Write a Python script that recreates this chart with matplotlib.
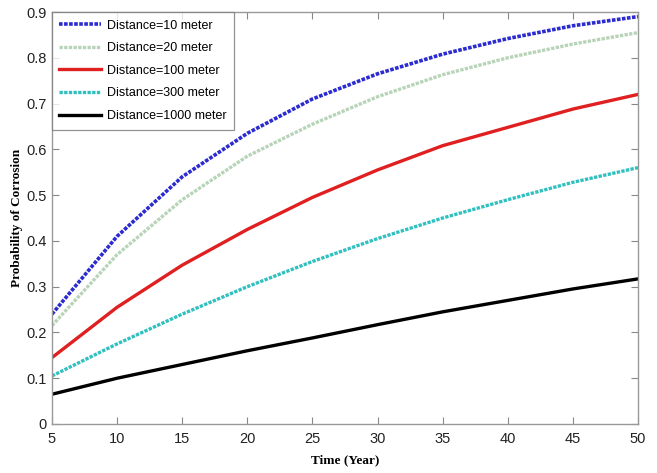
import matplotlib
matplotlib.use('Agg')
import matplotlib.pyplot as plt

# data
years = [5, 10, 15, 20, 25, 30, 35, 40, 45, 50]
d10 = [0.240, 0.410, 0.540, 0.635, 0.710, 0.765, 0.808, 0.842, 0.870, 0.890]
d20 = [0.215, 0.370, 0.490, 0.585, 0.655, 0.715, 0.763, 0.800, 0.830, 0.855]
d100 = [0.145, 0.255, 0.347, 0.425, 0.495, 0.555, 0.608, 0.648, 0.688, 0.720]
d300 = [0.105, 0.175, 0.240, 0.300, 0.355, 0.405, 0.450, 0.490, 0.528, 0.560]
d1000 = [0.065, 0.100, 0.130, 0.160, 0.188, 0.217, 0.245, 0.270, 0.295, 0.317]
labels = ['Distance=10 meter', 'Distance=20 meter', 'Distance=100 meter',
          'Distance=300 meter', 'Distance=1000 meter']
x_ticks = [5, 10, 15, 20, 25, 30, 35, 40, 45, 50]
y_ticks = [0, 0.1, 0.2, 0.3, 0.4, 0.5, 0.6, 0.7, 0.8, 0.9]

plt.rcParams['font.family'] = ['Liberation Sans', 'DejaVu Sans']

fig = plt.figure(figsize=(6.57, 4.73), dpi=100)
ax = fig.add_axes([0.0791, 0.1036, 0.892, 0.871])

dot = (0, (1, 0.4))
ax.plot(years, d10, color='#2b2bd0', lw=2.6, ls=dot, label=labels[0])
ax.plot(years, d20, color='#b8d4b8', lw=2.4, ls=dot, label=labels[1])
ax.plot(years, d100, color='#e02020', lw=2.4, ls='-', label=labels[2])
ax.plot(years, d300, color='#30c0c0', lw=2.4, ls=dot, label=labels[3])
ax.plot(years, d1000, color='black', lw=2.4, ls='-', label=labels[4])

ax.set_xlim(5, 50)
ax.set_ylim(0, 0.9)
ax.set_xticks(x_ticks)
ax.set_yticks(y_ticks)
ax.set_xticklabels([str(v) for v in x_ticks])
ax.set_yticklabels(['0'] + ['%.1f' % v for v in y_ticks[1:]])
ax.tick_params(direction='in', length=5, width=0.8, colors='#888888',
               labelcolor='#222222', labelsize=10.5, top=True, right=True)
ax.tick_params(axis='x', pad=6)
for s in ax.spines.values():
    s.set_color('#999999')
    s.set_linewidth(1.0)

ax.set_xlabel('Time (Year)', family='Liberation Serif', fontweight='bold',
              fontsize=9.5, labelpad=6)
ax.set_ylabel('Probability of Corrosion', family='Liberation Serif',
              fontweight='bold', fontsize=9.5, labelpad=3)

leg = ax.legend(loc='upper left', fontsize=9, frameon=True, fancybox=False,
                edgecolor='#777777', handlelength=3.3, handletextpad=0.5,
                labelspacing=0.85, borderaxespad=0.0, borderpad=0.6)
leg.get_frame().set_linewidth(0.9)

fig.savefig('out.png', dpi=100)
